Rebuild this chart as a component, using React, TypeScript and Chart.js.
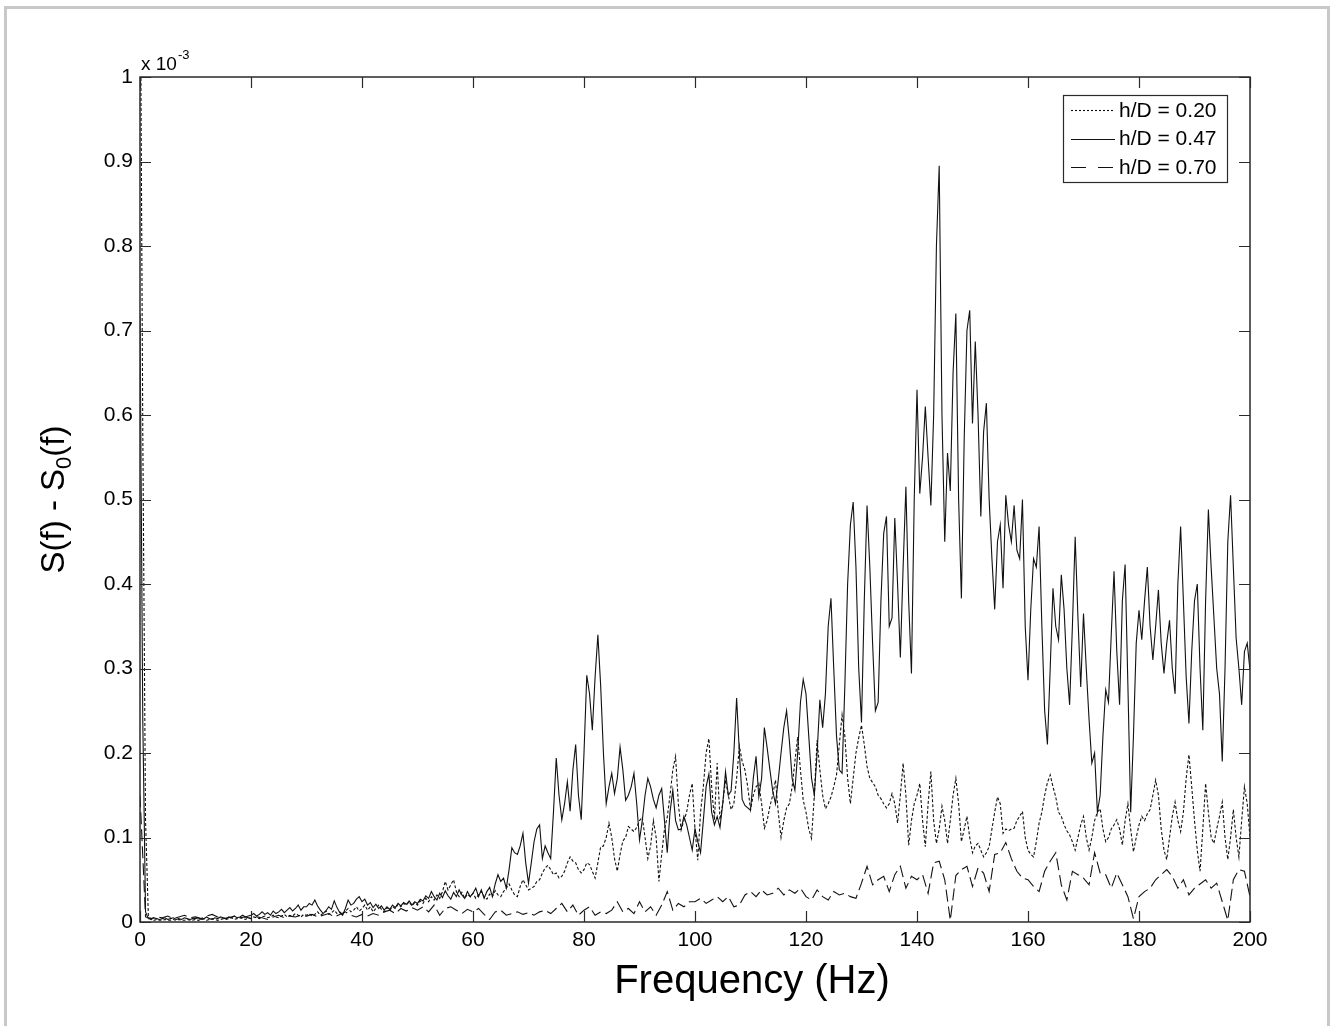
import React, { useEffect, useRef } from "react";
import { Chart, registerables } from "chart.js";

Chart.register(...registerables);

// ---- data (values in units of 1e-3) ----
const FINE_STEP_HZ = 0.5; // spacing of h/D = 0.20 and h/D = 0.47 samples
const COARSE_STEP_HZ = 1; // spacing of h/D = 0.70 samples

const X_TICKS = [0, 20, 40, 60, 80, 100, 120, 140, 160, 180, 200];
const Y_TICKS = [0, 0.1, 0.2, 0.3, 0.4, 0.5, 0.6, 0.7, 0.8, 0.9, 1];
const LEGEND_LABELS = ["h/D = 0.20", "h/D = 0.47", "h/D = 0.70"];
const X_TITLE = "Frequency (Hz)";
const EXPONENT = "-3";

const hd020 = [
  1.2, 0.58, 0.12, 0.008, 0.003, 0.002, 0.003, 0.002, 0.002, 0.003, 0.002, 0.002, 0.003, 0.002, 0.003, 0.002, 0.002, 0.003, 0.002, 0.002,
  0.003, 0.002, 0.003, 0.004, 0.002, 0.003, 0.004, 0.003, 0.002, 0.003, 0.004, 0.003, 0.004, 0.005, 0.003, 0.004, 0.005, 0.004, 0.003, 0.005,
  0.004, 0.006, 0.005, 0.004, 0.006, 0.007, 0.005, 0.006, 0.008, 0.006, 0.005, 0.007, 0.009, 0.006, 0.008, 0.007, 0.01, 0.008, 0.006, 0.009,
  0.008, 0.01, 0.007, 0.009, 0.012, 0.008, 0.01, 0.013, 0.009, 0.011, 0.014, 0.01, 0.012, 0.009, 0.013, 0.016, 0.012, 0.014, 0.018, 0.013,
  0.016, 0.02, 0.014, 0.018, 0.012, 0.016, 0.02, 0.015, 0.012, 0.017, 0.014, 0.018, 0.016, 0.021, 0.018, 0.022, 0.02, 0.024, 0.019, 0.023,
  0.02, 0.025, 0.022, 0.028, 0.024, 0.03, 0.026, 0.032, 0.028, 0.036, 0.048, 0.038, 0.044, 0.05, 0.036, 0.03, 0.035, 0.028, 0.033, 0.03,
  0.034, 0.028, 0.032, 0.036, 0.03, 0.027, 0.033, 0.03, 0.037, 0.032, 0.03, 0.036, 0.04, 0.045, 0.038, 0.032, 0.03, 0.042, 0.05, 0.044,
  0.038, 0.04, 0.042, 0.048, 0.05, 0.058, 0.064, 0.067, 0.062, 0.056, 0.058, 0.052, 0.054, 0.06, 0.07, 0.077, 0.072, 0.07, 0.062, 0.058,
  0.062, 0.07, 0.068, 0.06, 0.052, 0.07, 0.089, 0.09, 0.1, 0.117, 0.1, 0.075, 0.06, 0.08, 0.096, 0.1, 0.113, 0.11, 0.107, 0.112,
  0.12, 0.124, 0.1, 0.075, 0.09, 0.12, 0.1, 0.048, 0.08, 0.11, 0.124, 0.15, 0.18, 0.196, 0.14, 0.109, 0.12, 0.13, 0.15, 0.164,
  0.11, 0.073, 0.13, 0.16, 0.2, 0.217, 0.16, 0.121, 0.188, 0.121, 0.14, 0.168, 0.15, 0.133, 0.14, 0.17, 0.208, 0.19, 0.18, 0.16,
  0.133, 0.15, 0.16, 0.164, 0.14, 0.111, 0.12, 0.137, 0.15, 0.168, 0.13, 0.1, 0.12, 0.135, 0.14, 0.16, 0.19, 0.219, 0.18, 0.144,
  0.13, 0.11, 0.099, 0.15, 0.215, 0.18, 0.15, 0.134, 0.14, 0.148, 0.16, 0.174, 0.21, 0.245, 0.22, 0.17, 0.14, 0.17, 0.2, 0.218,
  0.233, 0.21, 0.184, 0.17, 0.165, 0.16, 0.15, 0.146, 0.14, 0.135, 0.14, 0.152, 0.14, 0.117, 0.15, 0.188, 0.15, 0.091, 0.12, 0.14,
  0.15, 0.164, 0.12, 0.089, 0.14, 0.178, 0.12, 0.093, 0.11, 0.137, 0.12, 0.093, 0.12, 0.15, 0.17, 0.14, 0.095, 0.11, 0.125, 0.1,
  0.082, 0.09, 0.093, 0.085, 0.077, 0.082, 0.089, 0.11, 0.13, 0.148, 0.14, 0.105, 0.11, 0.108, 0.11, 0.111, 0.12, 0.125, 0.131, 0.1,
  0.085, 0.08, 0.077, 0.095, 0.117, 0.13, 0.15, 0.165, 0.174, 0.16, 0.148, 0.13, 0.125, 0.115, 0.108, 0.103, 0.095, 0.085, 0.1, 0.115,
  0.125, 0.1, 0.085, 0.1, 0.12, 0.13, 0.134, 0.11, 0.095, 0.1, 0.11, 0.115, 0.121, 0.11, 0.091, 0.12, 0.14, 0.11, 0.083, 0.1,
  0.115, 0.125, 0.12, 0.128, 0.133, 0.15, 0.168, 0.15, 0.11, 0.085, 0.074, 0.1, 0.125, 0.142, 0.12, 0.107, 0.13, 0.17, 0.198, 0.16,
  0.12, 0.085, 0.06, 0.11, 0.164, 0.13, 0.1, 0.093, 0.11, 0.125, 0.142, 0.1, 0.074, 0.1, 0.133, 0.1, 0.077, 0.12, 0.16, 0.14,
  0.1,
];

const hd047 = [
  0.72, 0.24, 0.012, 0.004, 0.003, 0.005, 0.004, 0.003, 0.004, 0.005, 0.003, 0.004, 0.005, 0.003, 0.004, 0.003, 0.005, 0.004, 0.003, 0.004,
  0.004, 0.005, 0.003, 0.004, 0.006, 0.004, 0.003, 0.005, 0.004, 0.006, 0.005, 0.004, 0.006, 0.005, 0.007, 0.005, 0.006, 0.008, 0.006, 0.007,
  0.008, 0.01, 0.007, 0.009, 0.012, 0.009, 0.011, 0.008, 0.013, 0.01, 0.012, 0.015, 0.011, 0.014, 0.017, 0.013, 0.016, 0.02, 0.014, 0.018,
  0.018, 0.022, 0.02, 0.026, 0.019, 0.014, 0.01, 0.013, 0.018, 0.015, 0.025, 0.017, 0.011, 0.008, 0.016, 0.026, 0.02, 0.022, 0.027, 0.03,
  0.024, 0.027, 0.02, 0.023, 0.017, 0.021, 0.016, 0.019, 0.014, 0.018, 0.015, 0.02, 0.017, 0.022, 0.019, 0.023, 0.021, 0.025, 0.02, 0.024,
  0.022, 0.027, 0.025, 0.031, 0.028, 0.036, 0.03, 0.026, 0.034, 0.029, 0.037, 0.031, 0.027, 0.035, 0.03, 0.038, 0.032, 0.028, 0.036, 0.03,
  0.034, 0.04, 0.03, 0.038, 0.028, 0.036, 0.041, 0.03, 0.045, 0.056, 0.048, 0.052, 0.04, 0.062, 0.088, 0.082, 0.08, 0.09, 0.105, 0.07,
  0.046, 0.07, 0.095, 0.11, 0.115, 0.075, 0.09, 0.082, 0.075, 0.13, 0.194, 0.15, 0.121, 0.14, 0.166, 0.131, 0.18, 0.21, 0.15, 0.121,
  0.2, 0.292, 0.27, 0.227, 0.29, 0.34, 0.28, 0.2, 0.14, 0.16, 0.176, 0.152, 0.17, 0.207, 0.18, 0.144, 0.15, 0.16, 0.176, 0.14,
  0.097, 0.12, 0.15, 0.17, 0.16, 0.145, 0.135, 0.15, 0.158, 0.12, 0.082, 0.13, 0.156, 0.12, 0.109, 0.11, 0.125, 0.115, 0.1, 0.085,
  0.11, 0.095, 0.082, 0.12, 0.16, 0.175, 0.13, 0.115, 0.125, 0.112, 0.14, 0.178, 0.15, 0.155, 0.2, 0.265, 0.2, 0.145, 0.138, 0.135,
  0.132, 0.17, 0.196, 0.148, 0.17, 0.23, 0.206, 0.18, 0.155, 0.14, 0.168, 0.2, 0.23, 0.25, 0.215, 0.17, 0.156, 0.2, 0.26, 0.287,
  0.27, 0.22, 0.17, 0.15, 0.2, 0.263, 0.23, 0.27, 0.35, 0.383, 0.3, 0.22, 0.18, 0.176, 0.28, 0.4, 0.47, 0.497, 0.42, 0.3,
  0.236, 0.38, 0.493, 0.42, 0.33, 0.25, 0.26, 0.38, 0.46, 0.48, 0.35, 0.36, 0.478, 0.4, 0.313, 0.42, 0.515, 0.38, 0.294, 0.5,
  0.63, 0.507, 0.55, 0.61, 0.55, 0.493, 0.6, 0.8, 0.895, 0.6, 0.45, 0.555, 0.51, 0.65, 0.72, 0.5, 0.383, 0.57, 0.7, 0.724,
  0.59, 0.687, 0.6, 0.48, 0.58, 0.614, 0.5, 0.43, 0.37, 0.45, 0.47, 0.395, 0.505, 0.47, 0.45, 0.493, 0.44, 0.43, 0.5, 0.35,
  0.286, 0.37, 0.43, 0.42, 0.468, 0.35, 0.25, 0.21, 0.3, 0.395, 0.35, 0.334, 0.411, 0.37, 0.3, 0.257, 0.35, 0.456, 0.36, 0.278,
  0.365, 0.3, 0.24, 0.188, 0.2, 0.13, 0.15, 0.22, 0.275, 0.26, 0.34, 0.415, 0.32, 0.257, 0.38, 0.423, 0.28, 0.13, 0.22, 0.33,
  0.369, 0.334, 0.38, 0.42, 0.35, 0.31, 0.35, 0.393, 0.33, 0.294, 0.33, 0.357, 0.3, 0.27, 0.4, 0.468, 0.38, 0.29, 0.235, 0.32,
  0.38, 0.4, 0.3, 0.227, 0.38, 0.488, 0.42, 0.36, 0.3, 0.27, 0.19, 0.3, 0.45, 0.505, 0.42, 0.336, 0.3, 0.257, 0.32, 0.33,
  0.298,
];

const hd070 = [
  0.15, 0.006, 0.004, 0.006, 0.005, 0.007, 0.004, 0.006, 0.008, 0.005,
  0.006, 0.004, 0.007, 0.009, 0.006, 0.004, 0.005, 0.007, 0.005, 0.006,
  0.004, 0.006, 0.005, 0.003, 0.006, 0.008, 0.005, 0.007, 0.006, 0.008,
  0.007, 0.009, 0.006, 0.008, 0.01, 0.006, 0.009, 0.012, 0.008, 0.006,
  0.009, 0.007, 0.01, 0.008, 0.012, 0.014, 0.01, 0.016, 0.013, 0.017,
  0.014, 0.018, 0.012, 0.02, 0.008, 0.016, 0.018, 0.014, 0.01, 0.015,
  0.012, 0.016, 0.009, 0.003, 0.012, 0.014, 0.008, 0.01, 0.012, 0.009,
  0.011, 0.008, 0.012, 0.014, 0.01, 0.016, 0.022, 0.012, 0.02, 0.008,
  0.014, 0.018, 0.008, 0.012, 0.01, 0.014, 0.024, 0.012, 0.016, 0.01,
  0.024, 0.012, 0.018, 0.008, 0.02, 0.036, 0.014, 0.022, 0.018, 0.024,
  0.024, 0.028, 0.022, 0.026, 0.03, 0.024, 0.03, 0.018, 0.02, 0.032,
  0.036, 0.03, 0.038, 0.032, 0.034, 0.04, 0.032, 0.038, 0.034, 0.04,
  0.03, 0.026, 0.038, 0.03, 0.026, 0.036, 0.032, 0.034, 0.03, 0.028,
  0.046, 0.066, 0.044, 0.05, 0.054, 0.036, 0.056, 0.066, 0.04, 0.054,
  0.05, 0.056, 0.034, 0.07, 0.072, 0.05, 0.002, 0.055, 0.062, 0.066,
  0.042, 0.064, 0.058, 0.036, 0.08, 0.082, 0.094, 0.075, 0.06, 0.052,
  0.05, 0.042, 0.036, 0.06, 0.072, 0.082, 0.044, 0.026, 0.06, 0.056,
  0.052, 0.044, 0.082, 0.058, 0.056, 0.04, 0.058, 0.044, 0.03, 0.004,
  0.03, 0.036, 0.04, 0.05, 0.056, 0.062, 0.054, 0.04, 0.05, 0.032,
  0.04, 0.045, 0.05, 0.04, 0.046, 0.024, 0.002, 0.05, 0.062, 0.06,
  0.03,
];

const FONT = "'Liberation Sans', Arial, Helvetica, sans-serif";

const toPoints = (vals: number[], step: number) =>
  vals.map((v, i) => ({ x: i * step, y: v }));

const SERIES = [
  { label: LEGEND_LABELS[0], values: hd020, step: FINE_STEP_HZ, dash: [3, 2], legendDash: [2, 2] },
  { label: LEGEND_LABELS[1], values: hd047, step: FINE_STEP_HZ, dash: [], legendDash: [] },
  { label: LEGEND_LABELS[2], values: hd070, step: COARSE_STEP_HZ, dash: [12, 5], legendDash: [15, 12] },
];

const decorPlugin = {
  id: "matlabDecor",
  afterDatasetsDraw(chart: any) {
    const { ctx, chartArea: a, scales } = chart;
    const xs = scales.x;
    const ys = scales.y;
    ctx.save();
    // frame
    ctx.strokeStyle = "#2a2a2a";
    ctx.lineWidth = 1.5;
    ctx.setLineDash([]);
    ctx.strokeRect(a.left, a.top, a.right - a.left, a.bottom - a.top);
    // inward ticks on all four sides
    const TL = 11;
    ctx.beginPath();
    for (const t of X_TICKS) {
      const px = Math.round(xs.getPixelForValue(t)) + 0.5;
      ctx.moveTo(px, a.bottom);
      ctx.lineTo(px, a.bottom - TL);
      ctx.moveTo(px, a.top);
      ctx.lineTo(px, a.top + TL);
    }
    for (const t of Y_TICKS) {
      const py = Math.round(ys.getPixelForValue(t)) + 0.5;
      ctx.moveTo(a.left, py);
      ctx.lineTo(a.left + TL, py);
      ctx.moveTo(a.right, py);
      ctx.lineTo(a.right - TL, py);
    }
    ctx.lineWidth = 1.2;
    ctx.stroke();

    // exponent label
    ctx.fillStyle = "#000";
    ctx.textBaseline = "alphabetic";
    ctx.textAlign = "left";
    ctx.font = `19px ${FONT}`;
    ctx.fillText("x 10", a.left + 1, a.top - 7);
    const w10 = ctx.measureText("x 10").width;
    ctx.font = `13px ${FONT}`;
    ctx.fillText(EXPONENT, a.left + 2 + w10, a.top - 18);

    // legend
    const lx0 = a.right - 187;
    const ly0 = a.top + 18;
    const lw = 164;
    const lh = 87;
    ctx.fillStyle = "#fff";
    ctx.fillRect(lx0, ly0, lw, lh);
    ctx.strokeStyle = "#2a2a2a";
    ctx.lineWidth = 1.2;
    ctx.strokeRect(lx0 + 0.5, ly0 + 0.5, lw, lh);
    ctx.font = `21px ${FONT}`;
    ctx.textBaseline = "middle";
    SERIES.forEach((s, i) => {
      const cy = ly0 + 15 + i * 28.5;
      ctx.beginPath();
      ctx.setLineDash(s.legendDash);
      ctx.strokeStyle = "#111";
      ctx.lineWidth = 1.1;
      ctx.moveTo(lx0 + 8, Math.round(cy) + 0.5);
      ctx.lineTo(lx0 + 52, Math.round(cy) + 0.5);
      ctx.stroke();
      ctx.setLineDash([]);
      ctx.fillStyle = "#000";
      ctx.fillText(s.label, lx0 + 56, cy + 1);
    });

    // x title
    ctx.font = `40px ${FONT}`;
    ctx.textAlign = "center";
    ctx.textBaseline = "alphabetic";
    ctx.fillStyle = "#000";
    ctx.fillText(X_TITLE, 752, 993);

    // y title: S(f) - S0(f) with subscript 0, rotated
    ctx.translate(64, (a.top + a.bottom) / 2);
    ctx.rotate(-Math.PI / 2);
    const big = `33px ${FONT}`;
    const small = `22px ${FONT}`;
    const parts = [
      { t: "S(f) - S", f: big, dy: 0 },
      { t: "0", f: small, dy: 7 },
      { t: "(f)", f: big, dy: 0 },
    ];
    let total = 0;
    for (const p of parts) {
      ctx.font = p.f;
      total += ctx.measureText(p.t).width;
    }
    let cx = -total / 2;
    ctx.textAlign = "left";
    for (const p of parts) {
      ctx.font = p.f;
      ctx.fillText(p.t, cx, p.dy);
      cx += ctx.measureText(p.t).width;
    }
    ctx.restore();
  },
};

export default function App() {
  const canvasRef = useRef<HTMLCanvasElement | null>(null);

  useEffect(() => {
    if (!canvasRef.current) return;
    const chart = new Chart(canvasRef.current, {
      type: "line",
      data: {
        datasets: SERIES.map((s) => ({
          label: s.label,
          data: toPoints(s.values, s.step),
          borderColor: "#111",
          borderWidth: 1.1,
          borderDash: s.dash,
          pointRadius: 0,
          tension: 0,
          fill: false,
        })),
      },
      options: {
        responsive: false,
        animation: false,
        events: [],
        layout: { padding: { left: 0, top: 77, right: 85, bottom: 0 } },
        plugins: { legend: { display: false }, tooltip: { enabled: false } },
        scales: {
          x: {
            type: "linear",
            min: 0,
            max: 200,
            afterBuildTicks: (scale: any) => {
              scale.ticks = X_TICKS.map((v) => ({ value: v }));
            },
            ticks: {
              color: "#000",
              font: { family: FONT, size: 21 },
              padding: 6,
              maxRotation: 0,
              autoSkip: false,
            },
            grid: { display: false, drawTicks: false },
            border: { display: false },
            afterFit: (scale: any) => {
              scale.height = 104;
            },
          },
          y: {
            type: "linear",
            min: 0,
            max: 1,
            afterBuildTicks: (scale: any) => {
              scale.ticks = Y_TICKS.map((v) => ({ value: v }));
            },
            ticks: {
              color: "#000",
              font: { family: FONT, size: 21 },
              padding: 7,
              autoSkip: false,
              callback: (v: any) => String(Number(Number(v).toFixed(1))),
            },
            grid: { display: false, drawTicks: false },
            border: { display: false },
            afterFit: (scale: any) => {
              scale.width = 140;
            },
          },
        },
      },
      plugins: [decorPlugin],
    } as any);
    return () => chart.destroy();
  }, []);

  return (
    <div
      style={{
        position: "absolute",
        left: 0,
        top: 0,
        width: 1335,
        height: 1026,
        background: "#fff",
        overflow: "hidden",
      }}
    >
      <div
        style={{
          position: "absolute",
          left: 4,
          top: 6,
          width: 1326,
          height: 1040,
          border: "3px solid #c8c8c8",
          borderBottom: "none",
          boxSizing: "border-box",
        }}
      />
      <canvas
        ref={canvasRef}
        width={1335}
        height={1026}
        style={{ position: "absolute", left: 0, top: 0, width: 1335, height: 1026 }}
      />
    </div>
  );
}
